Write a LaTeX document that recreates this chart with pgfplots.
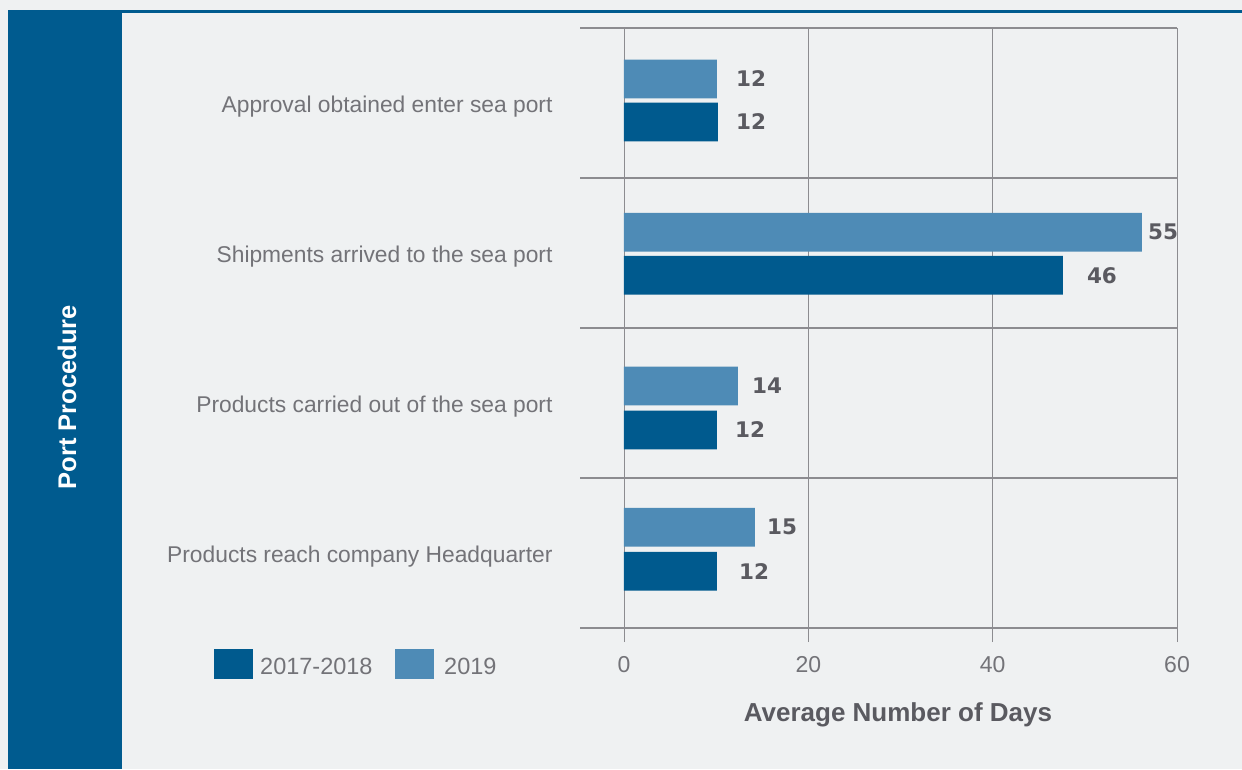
\documentclass[border=0pt]{standalone}
\usepackage{fontspec}
\setmainfont{Liberation Sans}
\newfontfamily\labfont{DejaVu Sans}
\usepackage{pgfplots}
\pgfplotsset{compat=1.18}
\usepackage{pgfplotstable}
\definecolor{bandblue}{RGB}{0,91,143}
\definecolor{darkbar}{RGB}{0,90,142}
\definecolor{lightbar}{RGB}{78,139,182}
\definecolor{bg}{RGB}{239,241,242}
\definecolor{gridc}{RGB}{140,140,144}
\definecolor{lab}{RGB}{90,90,96}
\definecolor{catc}{RGB}{115,115,120}

\pgfplotstableread{
x y lab dx
10.19 0.626 12 18
47.61 1.648 46 24
10.09 2.680 12 18
10.09 3.621 12 22
}\darkdata
\pgfplotstableread{
x y lab dx
10.09 0.340 12 19
56.20 1.361 55 6
12.36 2.387 14 14
14.20 3.328 15 12
}\lightdata

\begin{document}
\begin{tikzpicture}[x=1pt,y=1pt]
\useasboundingbox (0,0) rectangle (1242,-769);
\fill[bg] (0,0) rectangle (1242,-769);
\fill[bandblue] (8,-11) rectangle (122,-769);
\fill[bandblue] (8,-10) rectangle (1242,-13);
\node[rotate=90, text=white, font=\bfseries\fontsize{25.5}{30}\selectfont] at (67,-397) {Port Procedure};
\begin{axis}[
  scale only axis, width=597pt, height=600pt,
  at={(580pt,-628pt)}, anchor=south west,
  xmin=-4.77, xmax=60, ymin=0, ymax=4, y dir=reverse,
  axis line style={draw=none},
  xtick={0,20,40,60}, xmajorgrids,
  major grid style={gridc, line width=0.9pt},
  xtick pos=lower, tick align=outside, major tick length=14pt,
  x tick style={gridc, line width=0.9pt},
  ytick={0.5,1.5,2.5,3.5},
  yticklabels={Approval obtained enter sea port, \raisebox{-4pt}{Shipments arrived to the sea port}, Products carried out of the sea port, Products reach company Headquarter},
  y tick style={draw=none},
  extra y ticks={0,1,2,3,4}, extra y tick labels={},
  extra y tick style={grid=major, major grid style={gridc, line width=1.1pt}, y tick style={draw=none}},
  /pgf/number format/assume math mode=true,
  xticklabel style={font=\fontsize{23}{27}\selectfont, text=catc, yshift=-11pt},
  yticklabel style={font=\fontsize{22.8}{27}\selectfont, text=catc, xshift=-10pt, yshift=-4pt},
  point meta=explicit symbolic,
  nodes near coords,
  visualization depends on={\thisrow{dx} \as \dx},
  nodes near coords style={anchor=west, inner sep=0pt, xshift=\dx, font=\labfont\bfseries\fontsize{21.5}{26}\selectfont, text=lab},
]
\addplot[xbar, bar width=0.258, bar shift=0pt, fill=darkbar, draw=none] table[x=x,y=y,meta=lab]{\darkdata};
\addplot[xbar, bar width=0.258, bar shift=0pt, fill=lightbar, draw=none] table[x=x,y=y,meta=lab]{\lightdata};
\end{axis}
\fill[darkbar] (214,-649) rectangle (253,-679);
\node[anchor=west, inner sep=0pt, text=catc, font=\fontsize{23.5}{27}\selectfont] at (260,-666) {2017-2018};
\fill[lightbar] (395,-649) rectangle (434,-679);
\node[anchor=west, inner sep=0pt, text=catc, font=\fontsize{23.5}{27}\selectfont] at (444,-666) {2019};
\node[font=\bfseries\fontsize{26}{30}\selectfont, text=lab] at (898,-715) {Average Number of Days};
\end{tikzpicture}
\end{document}
